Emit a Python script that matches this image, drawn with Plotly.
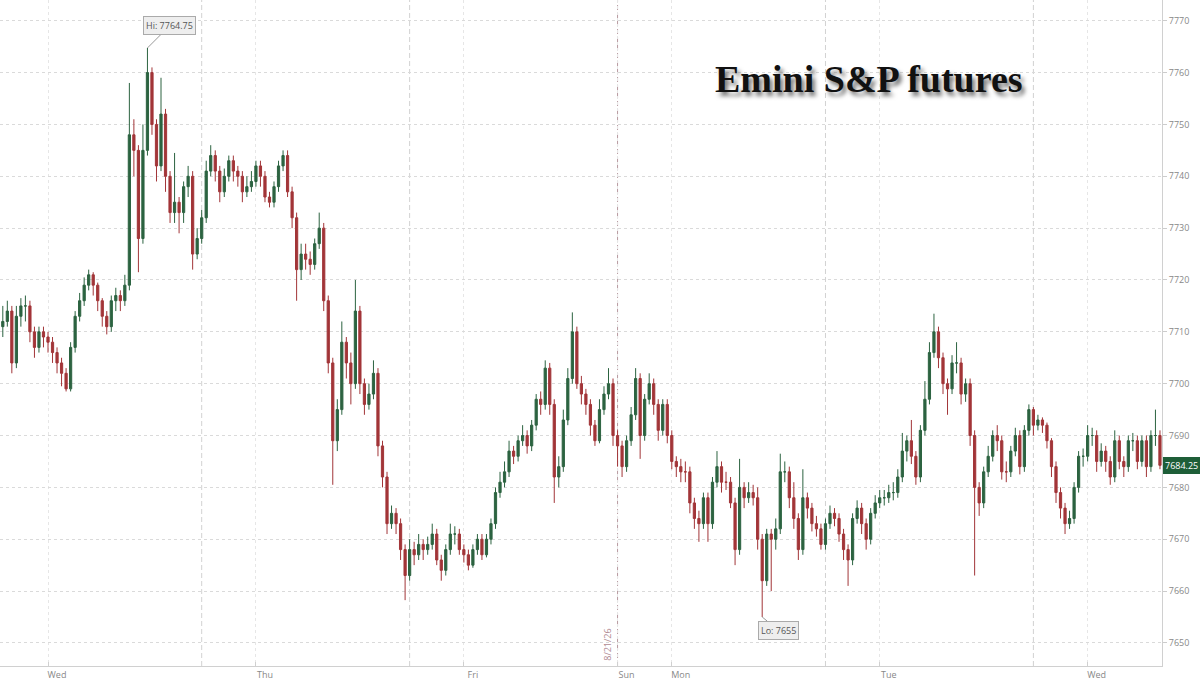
import pandas as pd
import plotly.graph_objects as go

# ---- data (30-minute bars, Emini S&P futures) ----
sessions = [
    ("2026-08-18 18:30", "2026-08-19 16:30"),
    ("2026-08-19 18:00", "2026-08-20 16:30"),
    ("2026-08-20 18:00", "2026-08-21 16:30"),
    ("2026-08-23 18:00", "2026-08-24 16:30"),
    ("2026-08-24 18:00", "2026-08-25 16:30"),
    ("2026-08-25 18:00", "2026-08-26 08:00"),
]

first_open = 7710

close = [
    7711, 7712, 7714, 7704, 7713, 7715, 7715, 7710, 7707, 7710,
    7709, 7708, 7706, 7704, 7702, 7699, 7707, 7713, 7716, 7719,
    7721, 7719, 7716, 7713, 7711, 7716, 7717, 7716, 7719, 7748,
    7745, 7728, 7745, 7760, 7750, 7742, 7752, 7740, 7733, 7735,
    7733, 7738, 7740, 7725, 7728,
    7732, 7741, 7744, 7741, 7737, 7740, 7743, 7741, 7740, 7737,
    7738, 7739, 7742, 7740, 7736, 7735, 7738, 7742, 7744, 7737,
    7732, 7722, 7725, 7724, 7723, 7727, 7730, 7716, 7704, 7689,
    7695, 7708, 7704, 7700, 7714, 7700, 7696, 7698, 7702, 7688,
    7682, 7673, 7675, 7673, 7668, 7663,
    7668, 7667, 7669, 7668, 7669, 7671, 7666, 7664, 7668, 7671,
    7671, 7668, 7667, 7665, 7668, 7670, 7667, 7670, 7673, 7679,
    7681, 7683, 7687, 7686, 7689, 7690, 7688, 7692, 7697, 7696,
    7703, 7696, 7682, 7684, 7693, 7701, 7710, 7700, 7698, 7696,
    7692, 7689, 7695, 7698, 7700, 7690,
    7688, 7684, 7689, 7694, 7701, 7690, 7697, 7700, 7696, 7691,
    7696, 7690, 7685, 7684, 7683, 7683, 7677, 7674, 7673, 7678,
    7673, 7681, 7684, 7681, 7681, 7677, 7668, 7680, 7678, 7679,
    7678, 7670, 7662, 7671, 7670, 7672, 7683, 7683, 7678, 7674,
    7668, 7678, 7676, 7673, 7672, 7669,
    7673, 7675, 7674, 7671, 7668, 7666, 7674, 7676, 7673, 7670,
    7675, 7677, 7678, 7678, 7679, 7679, 7682, 7687, 7689, 7686,
    7682, 7691, 7697, 7706, 7710, 7705, 7700, 7699, 7704, 7704,
    7698, 7700, 7690, 7680, 7677, 7683, 7686, 7690, 7689, 7683,
    7683, 7687, 7690, 7684, 7691, 7695,
    7692, 7693, 7692, 7689, 7684, 7679, 7676, 7673, 7674, 7680,
    7686, 7686, 7690, 7690, 7685, 7687, 7685, 7682, 7689, 7685,
    7684, 7689, 7689, 7685, 7689, 7684, 7690, 7690, 7684.25,
]

high = [
    7713, 7715, 7716, 7715, 7715, 7716.5, 7717, 7716, 7711, 7711,
    7711, 7710, 7709, 7707, 7705, 7703, 7708, 7714, 7717.5, 7720.5,
    7722, 7721.5, 7719.5, 7716.5, 7714, 7717, 7718.5, 7718, 7721, 7758,
    7751, 7746, 7750, 7764.75, 7761, 7751, 7759, 7753, 7741, 7744.5,
    7736, 7739, 7742, 7741, 7730,
    7733.5, 7743, 7746, 7745, 7742, 7741.5, 7744, 7744, 7742, 7741,
    7740, 7741, 7743, 7743, 7741, 7737, 7739, 7743, 7745, 7745,
    7738, 7733, 7727, 7727, 7725.5, 7728, 7733, 7731, 7717, 7705,
    7697, 7712, 7709, 7706, 7720, 7715, 7701, 7700, 7704.5, 7703,
    7689, 7683, 7676.5, 7676, 7674, 7669,
    7670, 7669.5, 7671, 7670, 7670.5, 7673, 7672, 7667, 7669, 7673,
    7672.5, 7672, 7669, 7668, 7669, 7671, 7671, 7671, 7674, 7680,
    7683, 7685, 7689, 7688, 7690, 7692, 7691, 7693, 7698, 7698.5,
    7704.5, 7704, 7697, 7686, 7695, 7703, 7713.75, 7711, 7701.5, 7699,
    7697, 7693, 7697, 7699.5, 7703, 7701,
    7691, 7689, 7690, 7695.5, 7703, 7702, 7698, 7702, 7701, 7697,
    7697, 7697, 7691, 7686, 7685.5, 7685, 7684, 7678, 7675.5, 7679,
    7679, 7682, 7687, 7685, 7683, 7682, 7678, 7685.5, 7681, 7681,
    7680.5, 7680, 7671, 7672, 7672, 7674, 7686.5, 7685, 7684, 7681,
    7675, 7683.5, 7679, 7677, 7674.5, 7673,
    7674, 7676.5, 7676, 7675, 7672, 7669, 7675, 7677.5, 7677, 7674,
    7676, 7678.5, 7679.5, 7679.5, 7680.5, 7681, 7683.5, 7690.5, 7690, 7693,
    7687, 7692, 7700.5, 7708, 7713.5, 7711, 7706, 7701, 7705.5, 7708,
    7705, 7701, 7701, 7691, 7681, 7684, 7688, 7691, 7692, 7690,
    7685, 7688, 7691.5, 7691, 7692, 7696,
    7695.5, 7694, 7693.5, 7692.5, 7689.5, 7685, 7680, 7677, 7675.5, 7681,
    7687, 7687.5, 7692, 7691.5, 7691, 7688.5, 7688, 7686, 7691, 7690,
    7686, 7690, 7690.5, 7690, 7690, 7690, 7691, 7695, 7691,
]

low = [
    7708, 7709, 7711, 7702, 7703, 7711, 7712, 7708, 7705, 7706,
    7707, 7706, 7704, 7702, 7699.5, 7698.5, 7698.5, 7706, 7712, 7715,
    7718, 7717, 7714, 7711, 7709.5, 7710, 7714, 7714, 7715, 7718,
    7740, 7721.5, 7727, 7744, 7748, 7739, 7741, 7737, 7731, 7731,
    7729, 7731, 7736, 7722, 7724,
    7727, 7731, 7740, 7739, 7735, 7736, 7739, 7739, 7738, 7735,
    7736, 7737, 7738, 7738, 7735, 7734, 7734, 7737, 7741, 7736,
    7730, 7716, 7720, 7722, 7721, 7722, 7726, 7714, 7702, 7680.5,
    7687, 7694, 7701, 7696, 7699, 7698, 7694, 7695, 7697, 7686,
    7680, 7671, 7672, 7671, 7666, 7658.25,
    7662, 7665, 7666, 7666, 7667, 7668, 7665, 7662, 7663, 7667,
    7669, 7667, 7665.5, 7664, 7664.5, 7667, 7666, 7666.5, 7669, 7672,
    7678, 7680, 7682, 7684.5, 7685, 7688, 7686.5, 7687, 7691, 7694,
    7695, 7694, 7677, 7680, 7683, 7692, 7700, 7699, 7696, 7694,
    7690, 7688, 7688.5, 7694, 7697, 7688,
    7684, 7682, 7683, 7688, 7693, 7685.5, 7689, 7696, 7694, 7689,
    7690, 7688.5, 7683.5, 7682, 7681, 7681, 7675, 7672, 7669.5, 7672,
    7669.5, 7672, 7680, 7679, 7679.5, 7676, 7665, 7667, 7676, 7677,
    7676.5, 7668, 7655, 7661, 7660, 7668, 7671, 7681, 7676, 7672,
    7666, 7667, 7674, 7671.5, 7670.5, 7668,
    7668, 7672, 7672.5, 7669.5, 7666, 7661, 7665, 7673, 7671, 7668,
    7669, 7674, 7676, 7676.5, 7677, 7677.5, 7678, 7681, 7685, 7684.5,
    7680.5, 7681, 7690, 7696, 7705, 7703, 7698, 7694, 7698, 7702,
    7696, 7696.5, 7688, 7663, 7674.5, 7676, 7682, 7685, 7687, 7681.5,
    7681, 7682, 7686, 7682.5, 7683, 7690,
    7690, 7691, 7690.5, 7687.5, 7682, 7677, 7674, 7671, 7672, 7673,
    7679, 7684, 7685, 7688, 7683, 7684, 7683, 7680.5, 7681, 7683.5,
    7682, 7683, 7687, 7683.5, 7684, 7682, 7683, 7688, 7683.5,
]

day_ticks = ["2026-08-19 00:00", "2026-08-20 00:00", "2026-08-21 00:00",
             "2026-08-23 18:00", "2026-08-24 00:00", "2026-08-25 00:00",
             "2026-08-26 00:00"]
day_labels = ["Wed", "Thu", "Fri", "Sun", "Mon", "Tue", "Wed"]
session_breaks = ["2026-08-19 18:00", "2026-08-20 18:00",
                  "2026-08-24 18:00", "2026-08-25 18:00"]
weekend_break = "2026-08-23 18:00"
weekend_label = "8/21/26"
y_ticks = list(range(7650, 7771, 10))

hi_val, lo_val = 7764.75, 7655
last_val = 7684.25

# ---- bar timestamps; the axis is the trading-bar sequence (gaps removed) ----
times = []
for s, e in sessions:
    times.extend(pd.date_range(s, e, freq="30min"))
pos = {t: i for i, t in enumerate(times)}
xs = list(range(len(times)))
opens = [first_open] + close[:-1]
hi_idx = high.index(hi_val)
lo_idx = low.index(lo_val)

tick_pos = [pos[pd.Timestamp(t)] for t in day_ticks]
break_pos = [pos[pd.Timestamp(t)] for t in session_breaks]
weekend_pos = pos[pd.Timestamp(weekend_break)]

fig = go.Figure()
fig.add_trace(go.Candlestick(
    x=xs, open=opens, high=high, low=low, close=close,
    increasing=dict(line=dict(color="#2c6340", width=1), fillcolor="#2c6340"),
    decreasing=dict(line=dict(color="#a23538", width=1), fillcolor="#a23538"),
    whiskerwidth=0, showlegend=False, hoverinfo="skip",
))

shapes = []
for p in break_pos:
    shapes.append(dict(type="line", xref="x", yref="paper", x0=p, x1=p, y0=0, y1=1,
                       line=dict(color="#d2d2d2", width=1, dash="5px,3px"), layer="below"))
shapes.append(dict(type="line", xref="x", yref="paper", x0=weekend_pos, x1=weekend_pos,
                   y0=0, y1=1, line=dict(color="#b89aa0", width=1, dash="5px,3px"),
                   layer="below"))

annotations = [
    dict(xref="paper", yref="paper", x=0.748, y=0.881, text="<b>Emini S&amp;P futures</b>",
         showarrow=False, xanchor="center", yanchor="middle",
         font=dict(family="Liberation Serif", size=38, color="#111111",
                   shadow="3px 4px 4px #777777")),
    dict(x=hi_idx, y=hi_val, xref="x", yref="y", text="Hi: 7764.75",
         showarrow=True, arrowhead=0, arrowwidth=1, arrowcolor="#999999",
         ax=22, ay=-22, bgcolor="#eeeeee", bordercolor="#aaaaaa", borderwidth=1,
         borderpad=2, font=dict(family="Open Sans", size=9, color="#555555")),
    dict(x=lo_idx, y=lo_val, xref="x", yref="y", text="Lo: 7655",
         showarrow=True, arrowhead=0, arrowwidth=1, arrowcolor="#999999",
         ax=16, ay=13, bgcolor="#eeeeee", bordercolor="#aaaaaa", borderwidth=1,
         borderpad=2, font=dict(family="Open Sans", size=9, color="#555555")),
    dict(xref="paper", yref="y", x=1.0, y=last_val, text="7684.25", showarrow=False,
         xanchor="left", yanchor="middle", xshift=1, bgcolor="#1e5e38",
         bordercolor="#1e5e38", borderpad=1,
         font=dict(family="Open Sans", size=9, color="#ffffff")),
    dict(x=weekend_pos, y=0.005, xref="x", yref="paper", text=weekend_label,
         showarrow=False, textangle=-90, xanchor="right", yanchor="bottom", xshift=-1,
         font=dict(family="Open Sans", size=9, color="#b08a92")),
]

fig.update_layout(
    width=1200, height=681,
    margin=dict(l=0, r=38, t=0, b=12),
    paper_bgcolor="white", plot_bgcolor="white",
    shapes=shapes, annotations=annotations,
    xaxis=dict(
        range=[0.38, 257.45],
        rangeslider=dict(visible=False),
        tickmode="array", tickvals=tick_pos, ticktext=day_labels,
        showgrid=True, gridcolor="#e6e6e6", griddash="dot", gridwidth=1,
        showline=True, linecolor="#d0d0d0", linewidth=1,
        ticks="inside", ticklen=4, tickcolor="#d0d0d0",
        ticklabelshift=9, ticklabelstandoff=0,
        tickfont=dict(family="Open Sans", size=9, color="#888888"),
        zeroline=False, fixedrange=True,
    ),
    yaxis=dict(
        side="right", range=[7645.55, 7774.0],
        tickmode="array", tickvals=y_ticks,
        showgrid=True, gridcolor="#dadada", griddash="dot", gridwidth=1,
        showline=True, linecolor="#d0d0d0", linewidth=1,
        ticks="outside", ticklen=4, tickcolor="#cccccc",
        tickfont=dict(family="Open Sans", size=9, color="#888888"),
        zeroline=False, fixedrange=True,
    ),
)

fig.write_html("out.html", config={"displayModeBar": False},
               post_script="document.body.style.margin='0';document.body.style.overflow='hidden';")
